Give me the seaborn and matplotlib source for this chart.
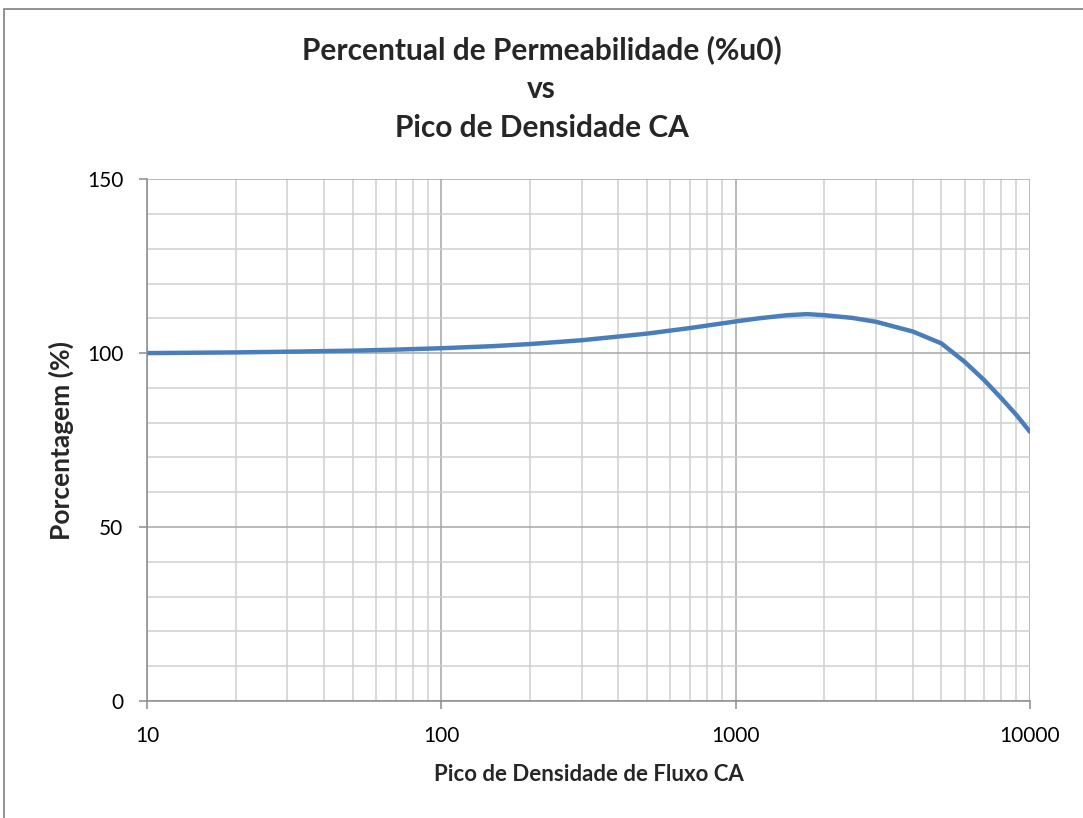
import matplotlib
matplotlib.use("Agg")
import matplotlib.pyplot as plt
import seaborn as sns
from matplotlib.ticker import FixedLocator, NullFormatter
from matplotlib.patches import Rectangle

sns.set_theme(style="white")
plt.rcParams["font.family"] = ["Lato", "DejaVu Sans"]

# values
pico = [10, 20, 30, 50, 70, 100, 150, 200, 300, 500, 700, 1000, 1200, 1500,
        1750, 2000, 2500, 3000, 4000, 5000, 6000, 7000, 8000, 9000, 10000]
porcentagem = [100.0, 100.2, 100.4, 100.7, 101.0, 101.4, 102.0, 102.6, 103.7,
               105.6, 107.2, 109.1, 110.0, 110.9, 111.2, 110.9, 110.1, 109.0,
               106.2, 102.8, 97.5, 92.2, 87.0, 82.2, 77.4]

x_ticks = [10, 100, 1000, 10000]
x_labels = ["10", "100", "1000", "10000"]
y_ticks = [0, 50, 100, 150]

fig = plt.figure(figsize=(10.83, 8.18), dpi=100)
ax = fig.add_axes([0.1357, 0.143, 0.8153, 0.638])

sns.lineplot(x=pico, y=porcentagem, ax=ax, color="#4a7ebb", linewidth=3.2)

ax.set_xscale("log")
ax.set_xlim(10, 10000)
ax.set_ylim(0, 150)

ax.xaxis.set_major_locator(FixedLocator(x_ticks))
ax.set_xticklabels(x_labels)
ax.xaxis.set_minor_locator(FixedLocator(
    [m * 10 ** e for e in range(1, 4) for m in range(2, 10)]))
ax.xaxis.set_minor_formatter(NullFormatter())
ax.set_yticks(y_ticks)
ax.yaxis.set_minor_locator(FixedLocator([v for v in range(10, 150, 10) if v % 50]))

ax.grid(which="major", color="#a6a6a6", linewidth=1.1)
ax.grid(which="minor", color="#d0d0d0", linewidth=1.1)
ax.set_axisbelow(True)

for side in ["top", "right"]:
    ax.spines[side].set_visible(False)
for side in ["left", "bottom"]:
    ax.spines[side].set_color("#8c8c8c")
    ax.spines[side].set_linewidth(1.1)

ax.tick_params(axis="both", which="major", direction="out", length=6, width=1.1,
               color="#8c8c8c", labelsize=15, labelcolor="black")
ax.tick_params(axis="y", which="major", pad=11)
ax.tick_params(axis="x", which="major", pad=12)
ax.tick_params(which="minor", length=0)
ax.tick_params(bottom=True, left=True)

ax.set_xlabel("Pico de Densidade de Fluxo CA", fontsize=16, fontweight="bold", labelpad=13)
ax.set_ylabel("Porcentagem (%)", fontsize=19, fontweight="bold", labelpad=9)

fig.text(0.5, 0.892, "Percentual de Permeabilidade (%u0)\nvs\nPico de Densidade CA",
         ha="center", va="center", fontsize=21.5, fontweight="bold", linespacing=1.47)

fig.patches.append(Rectangle((0.004, -0.01), 1.1, 0.999, transform=fig.transFigure,
                             fill=False, edgecolor="#7f7f7f", linewidth=1.2))

fig.savefig("out.png", dpi=100, facecolor="white")
